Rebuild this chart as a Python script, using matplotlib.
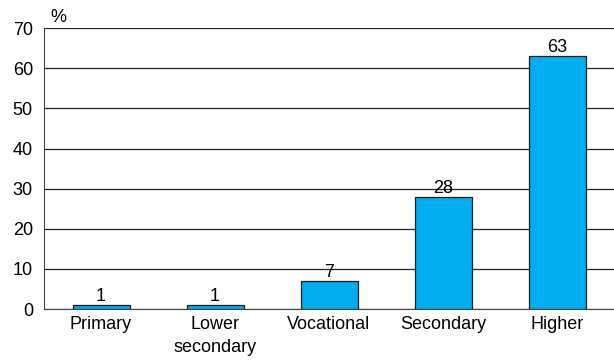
import matplotlib.pyplot as plt

plt.rcParams['font.family'] = ['Liberation Sans', 'DejaVu Sans']

categories = ["Primary", "Lower\nsecondary", "Vocational", "Secondary", "Higher"]
values = [1, 1, 7, 28, 63]
yticks = [0, 10, 20, 30, 40, 50, 60, 70]

fig = plt.figure(figsize=(6.14, 3.61), dpi=100)
ax = fig.add_axes([0.0717, 0.144, 0.9283, 0.778])

x = range(len(categories))
ax.bar(x, values, width=0.5, color="#00AEEF", edgecolor="#1a1a1a", linewidth=0.9, zorder=3)
for xi, v in zip(x, values):
    ax.text(xi, v, str(v), ha="center", va="bottom", fontsize=13, zorder=4)

ax.set_xlim(-0.5, len(categories) - 0.5)
ax.set_ylim(0, 70)
ax.set_yticks(yticks)
ax.set_xticks(list(x))
ax.set_xticklabels(categories, fontsize=13, linespacing=1.5)
ax.tick_params(axis="y", labelsize=13, length=0, pad=8)
ax.tick_params(axis="x", length=0, pad=5)
ax.yaxis.grid(True, color="#222222", linewidth=0.9, zorder=0)
ax.set_axisbelow(True)
for s in ["top", "right"]:
    ax.spines[s].set_visible(False)
ax.spines["left"].set_color("#444444")
ax.spines["bottom"].set_color("#444444")

fig.text(0.082, 0.94, "%", fontsize=13)

fig.savefig("out.png", dpi=100)
